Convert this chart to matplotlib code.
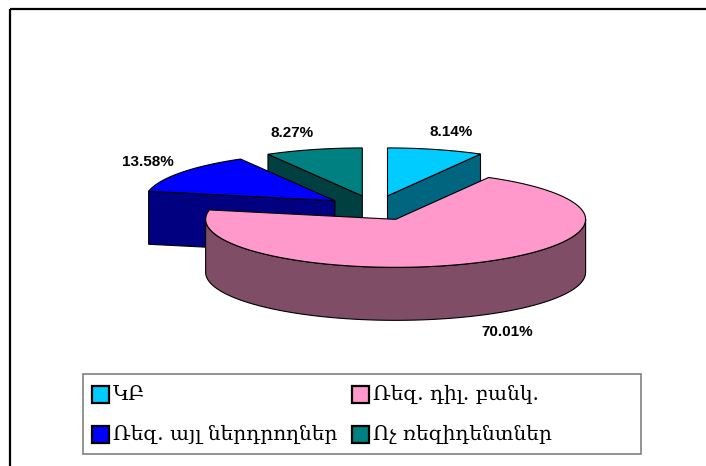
import numpy as np
import matplotlib

matplotlib.use("Agg")
import matplotlib.pyplot as plt
from matplotlib.patches import Polygon, Rectangle

# data
CATEGORIES = ["ԿԲ", "Ռեզ. դիլ. բանկ.", "Ռեզ. այլ ներդրողներ", "Ոչ ռեզիդենտներ"]
SHARES = [8.14, 70.01, 13.58, 8.27]
LABELS = ["8.14%", "70.01%", "13.58%", "8.27%"]
TOP_COLORS = ["#00CCFF", "#FF99CC", "#0000FF", "#008080"]
SIDE_COLORS = ["#006680", "#804D66", "#000080", "#004040"]

# layout (pixel space)
W, H = 706, 466
CX, CY = 375, 208  # pie centre
RX, RY = 190, 48  # ellipse radii of top face
DEPTH = 53
EXPLODE = 0.26
LABEL_SHIFT = [(16, -17), (32, 16), (-33, -11), (-21, -17)]

fig = plt.figure(figsize=(W / 100, H / 100), dpi=100)
ax = fig.add_axes([0, 0, 1, 1])
ax.set_xlim(0, W)
ax.set_ylim(H, 0)
ax.axis("off")

# outer frame (only top/left visible in the crop)
ax.plot([10, W], [9, 9], color="black", lw=1.6, solid_capstyle="butt")
ax.plot([10, 10], [9, H], color="black", lw=1.6, solid_capstyle="butt")


def arc(x0, y0, t0, t1, dy=0.0, n=80):
    t = np.radians(np.linspace(t0, t1, n))
    return np.column_stack([x0 + RX * np.sin(t), y0 - RY * np.cos(t) + dy])


total = sum(SHARES)
slices = []
start = 0.0
for i, v in enumerate(SHARES):
    t0, t1 = start, start + v / total * 360
    mid = np.radians((t0 + t1) / 2)
    ax0 = CX + EXPLODE * RX * np.sin(mid)
    ay0 = CY - EXPLODE * RY * np.cos(mid)
    slices.append((i, t0, t1, mid, ax0, ay0))
    start = t1

edge = dict(edgecolor="black", lw=0.8, joinstyle="miter")
# back slices first
for i, t0, t1, mid, x0, y0 in sorted(slices, key=lambda s: s[5]):
    side = SIDE_COLORS[i]
    # radial faces that face the viewer
    for t, phi in ((t0, t0 - 90), (t1, t1 + 90)):
        if np.cos(np.radians(phi)) < -1e-6:
            p = arc(x0, y0, t, t, n=1)[0]
            quad = [(x0, y0), tuple(p), (p[0], p[1] + DEPTH), (x0, y0 + DEPTH)]
            ax.add_patch(Polygon(quad, closed=True, facecolor=side, **edge))
    # outer curved side (front half only)
    a, b = max(t0, 90), min(t1, 270)
    if a < b:
        top = arc(x0, y0, a, b)
        bot = arc(x0, y0, b, a, dy=DEPTH)
        ax.add_patch(Polygon(np.vstack([top, bot]), closed=True, facecolor=side, **edge))
    # top face
    pts = np.vstack([[x0, y0], arc(x0, y0, t0, t1)])
    ax.add_patch(Polygon(pts, closed=True, facecolor=TOP_COLORS[i], **edge))

    # value label
    lx = x0 + RX * np.sin(mid) + LABEL_SHIFT[i][0]
    ly = y0 - RY * np.cos(mid) + LABEL_SHIFT[i][1]
    if np.cos(mid) < 0:
        ly += DEPTH
    ax.text(lx, ly, LABELS[i], ha="center", va="center", fontsize=11,
            fontweight="bold", family=["Liberation Sans", "DejaVu Sans"])

# legend box
LX0, LY0, LX1, LY1 = 83, 374, 641, 454
ax.add_patch(Rectangle((LX0, LY0), LX1 - LX0, LY1 - LY0, facecolor="white",
                       edgecolor="#808080", lw=1.2))
cols = [92, 352]
rows = [394, 434]
SQ = 17
for k, name in enumerate(CATEGORIES):
    x = cols[k % 2]
    y = rows[k // 2]
    ax.add_patch(Rectangle((x, y - SQ / 2), SQ, SQ, facecolor=TOP_COLORS[k],
                           edgecolor="black", lw=1.6))
    ax.text(x + SQ + 4, y, name, ha="left", va="center", fontsize=14.5,
            family=["DejaVu Serif", "DejaVu Sans"])

fig.savefig("out.png", dpi=100)
